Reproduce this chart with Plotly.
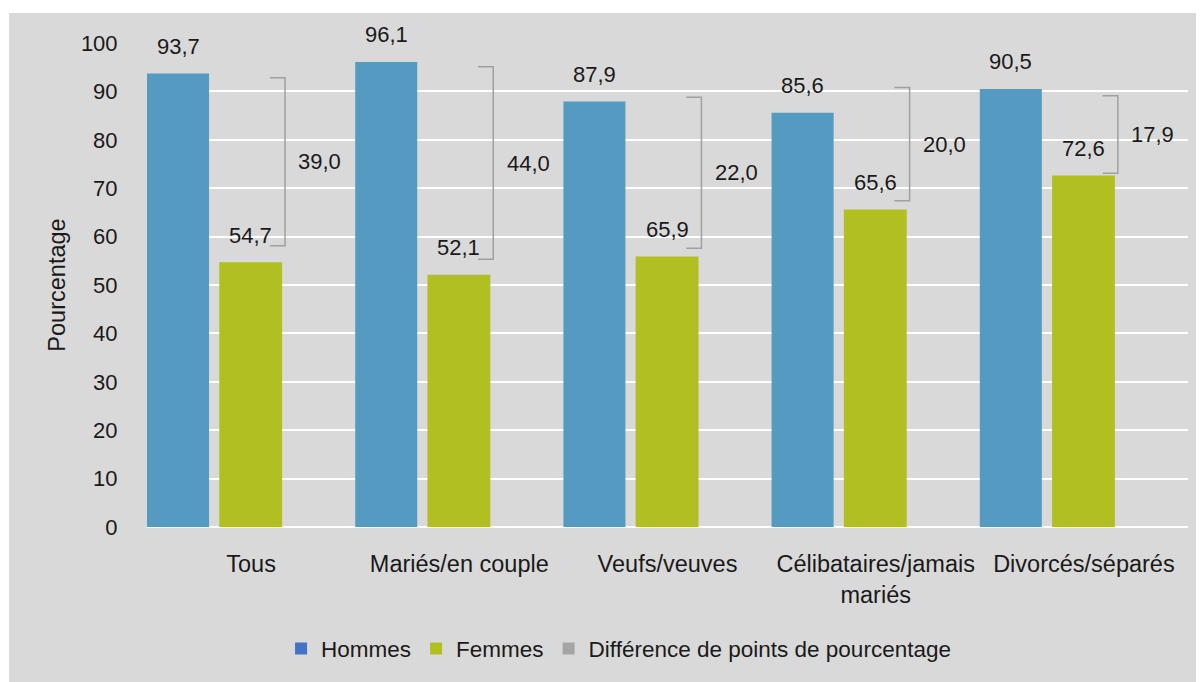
import plotly.graph_objects as go

# data
categories = ["Tous", "Mariés/en couple", "Veufs/veuves",
              "Célibataires/jamais<br>mariés", "Divorcés/séparés"]
hommes = [93.7, 96.1, 87.9, 85.6, 90.5]
femmes = [54.7, 52.1, 55.9, 65.6, 72.6]  # bar heights as drawn
hommes_labels = ["93,7", "96,1", "87,9", "85,6", "90,5"]
femmes_labels = ["54,7", "52,1", "65,9", "65,6", "72,6"]
diff_labels = ["39,0", "44,0", "22,0", "20,0", "17,9"]
bracket_top = [92.8, 95.1, 88.8, 90.8, 89.1]
bracket_bottom = [58.1, 55.3, 57.6, 67.4, 73.1]

BLUE = "#559bc1"
GREEN = "#b1bf21"
GREY = "#a0a0a0"
FONT = "Liberation Sans Narrow, Arial Narrow, Liberation Sans, Arial"

idx = list(range(len(categories)))

fig = go.Figure()

fig.add_trace(go.Bar(x=idx, y=hommes, offset=-0.5, width=0.298,
                     marker=dict(color=BLUE, line=dict(width=0)),
                     showlegend=False, hoverinfo="skip"))
fig.add_trace(go.Bar(x=idx, y=femmes, offset=-0.153, width=0.302,
                     marker=dict(color=GREEN, line=dict(width=0)),
                     showlegend=False, hoverinfo="skip"))

# brackets for the difference
bx, by = [], []
for i in idx:
    bx += [i + 0.09, i + 0.163, i + 0.163, i + 0.09, None]
    by += [bracket_top[i], bracket_top[i], bracket_bottom[i], bracket_bottom[i], None]
fig.add_trace(go.Scatter(x=bx, y=by, mode="lines",
                         line=dict(color=GREY, width=1.5),
                         showlegend=False, hoverinfo="skip"))

# legend entries (legend colours differ from bar colours in the original)
for name, col in [("Hommes", "#4472c4"), ("Femmes", "#b1bf21"),
                  ("Différence de points de pourcentage", "#a5a5a5")]:
    fig.add_trace(go.Bar(x=[None], y=[None], name=name,
                         marker=dict(color=col, line=dict(width=0))))

# data labels
for i in idx:
    fig.add_annotation(x=i - 0.351, y=hommes[i], text=hommes_labels[i],
                       showarrow=False, yshift=27, font=dict(size=22))
    fig.add_annotation(x=i - 0.002, y=femmes[i], text=femmes_labels[i],
                       showarrow=False, yshift=27, font=dict(size=22))
    fig.add_annotation(x=i + 0.33, y=(bracket_top[i] + bracket_bottom[i]) / 2,
                       text=diff_labels[i], showarrow=False, font=dict(size=22))

# grey panel with a thin white strip on the top/left
fig.add_shape(type="rect", xref="paper", yref="paper",
              x0=-0.1326, x1=1.03, y0=-0.33, y1=1.062,
              fillcolor="#d9d9d9", line=dict(width=0), layer="below")

# the page body has an 8px margin, so the figure is shrunk to fit
fig.update_layout(
    width=1196, height=674,
    margin=dict(l=139, r=16, t=35, b=155, autoexpand=False),
    paper_bgcolor="white",
    plot_bgcolor="#d9d9d9",
    barmode="overlay",
    font=dict(family=FONT, size=22, color="#1a1a1a"),
    showlegend=True,
    legend=dict(orientation="h", x=0.453, xanchor="center",
                y=-0.252, yanchor="middle",
                bgcolor="rgba(0,0,0,0)", font=dict(size=22.5)),
    xaxis=dict(range=[-0.5, 4.5], tickvals=idx, ticktext=categories,
               showgrid=False, zeroline=False, showline=False, automargin=False,
               tickfont=dict(size=23.5),
               ticks="outside", ticklen=16, tickcolor="rgba(0,0,0,0)"),
    yaxis=dict(range=[0, 100], dtick=10, showgrid=True, automargin=False,
               gridcolor="white", gridwidth=2, tickfont=dict(size=22),
               zeroline=True, zerolinecolor="white", zerolinewidth=2,
               ticks="outside", ticklen=24, tickcolor="rgba(0,0,0,0)",
               title=dict(text="Pourcentage", standoff=8, font=dict(size=23.5))),
)

fig.write_html("out.html")
